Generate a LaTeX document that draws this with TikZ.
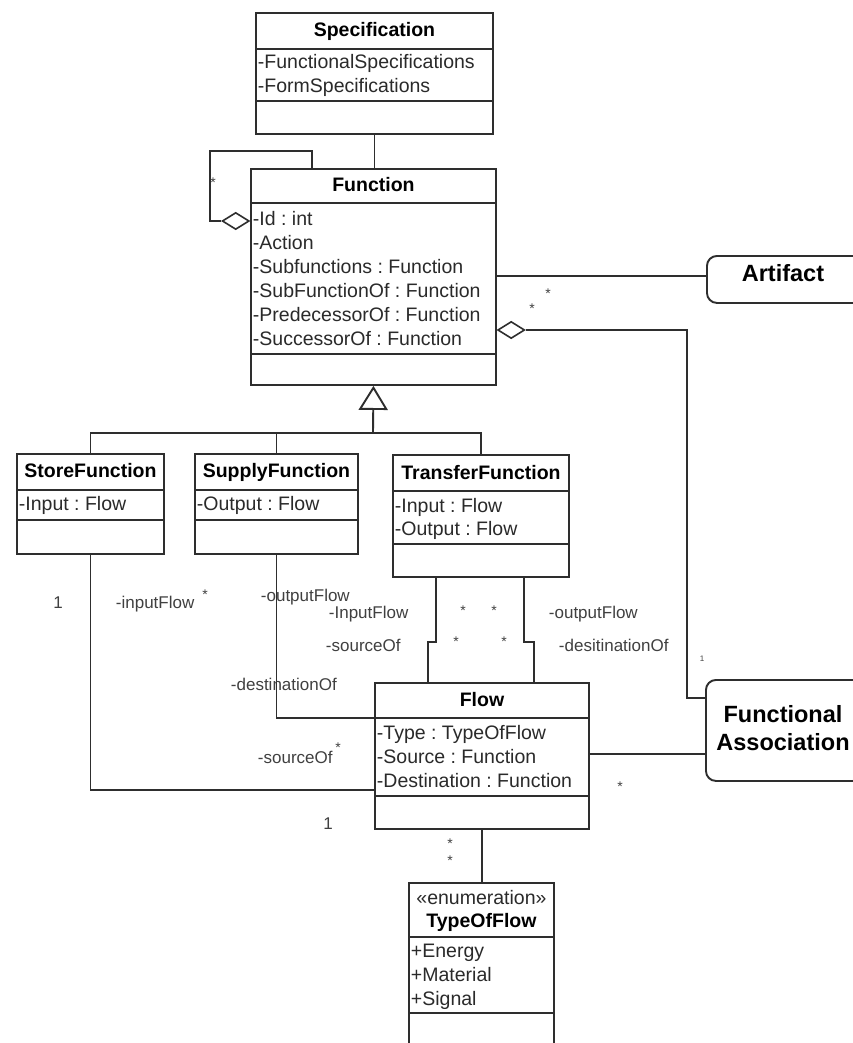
\documentclass[tikz,border=0pt]{standalone}
\usepackage{fontspec}
\setmainfont{Liberation Sans}
\usetikzlibrary{shapes.geometric,arrows.meta}
\frenchspacing
\definecolor{linec}{HTML}{2E2E2E}
\definecolor{textc}{HTML}{2A2A2A}
\definecolor{rolec}{HTML}{404040}
\newcommand\umlattrfont{\fontsize{19.5}{24}\selectfont}
\newcommand\umltitlefont{\fontsize{19.5}{24}\selectfont\bfseries}
\newcommand\umlrolefont{\fontsize{17}{20}\selectfont}
\newcommand\umlmultfont{\fontsize{14}{16}\selectfont}
\newcommand\umltinyfont{\fontsize{8}{10}\selectfont}
\newcommand\umlbigfont{\fontsize{23.5}{28}\selectfont\bfseries}
\tikzset{
  classbox/.style={draw=linec, line width=1.9pt, inner sep=0pt, anchor=north west},
  roundbox/.style={draw=linec, line width=1.9pt, rounded corners=10pt, inner sep=0pt, anchor=north west},
  umltitle/.style={font=\umltitlefont, text=black, anchor=base, inner sep=0pt},
  umlbig/.style={font=\umlbigfont, text=black, anchor=base, inner sep=0pt},
  umlattr/.style={font=\umlattrfont, text=textc, anchor=base west, inner sep=0pt},
  umlrole/.style={font=\umlrolefont, text=rolec, anchor=base west, inner sep=0pt},
  umlmult/.style={font=\umlmultfont, text=rolec, anchor=base, inner sep=0pt},
  agg/.style={diamond, draw=linec, fill=white, line width=1.6pt, minimum width=27pt, minimum height=17pt, inner sep=0pt},
  gentip/.style={-{Triangle[open,length=24pt,width=29pt]}},
}
\begin{document}
\begin{tikzpicture}[x=1pt,y=-1pt,line width=1.9pt,draw=linec]
\useasboundingbox (0,0) rectangle (852,1043);
\fill[white] (0,0) rectangle (852,1043);

% ---------- Specification ----------
\node[classbox, minimum width=237pt, minimum height=121pt] (spec) at (255,12) {};
\draw (spec.west |- 0,49) -- (spec.east |- 0,49);
\draw (spec.west |- 0,101) -- (spec.east |- 0,101);
\node[umltitle] (specT) at (spec.north |- 0,37) {Specification};
\node[umlattr] (specA1) at (257,69) {-FunctionalSpecifications};
\node[umlattr] (specA2) at (257,93) {-FormSpecifications};

% ---------- Function ----------
\node[classbox, minimum width=245pt, minimum height=216pt] (func) at (250,168) {};
\draw (func.west |- 0,203) -- (func.east |- 0,203);
\draw (func.west |- 0,354) -- (func.east |- 0,354);
\node[umltitle] (funcT) at (func.north |- 0,192) {Function};
\node[umlattr] (funcA1) at (252,225) {-Id : int};
\node[umlattr] (funcA2) at (252,249) {-Action};
\node[umlattr] (funcA3) at (252,273) {-Subfunctions : Function};
\node[umlattr] (funcA4) at (252,297) {-SubFunctionOf : Function};
\node[umlattr] (funcA5) at (252,321) {-PredecessorOf : Function};
\node[umlattr] (funcA6) at (252,345) {-SuccessorOf : Function};

% ---------- Artifact / Functional Association ----------
\node[roundbox, minimum width=156pt, minimum height=47pt] (art) at (706,255) {};
\node[umlbig] (artT) at (783,281) {Artifact};
\node[roundbox, minimum width=157pt, minimum height=101pt] (fa) at (705,679) {};
\node[umlbig] (faT1) at (783,722.5) {Functional};
\node[umlbig] (faT2) at (783,750.5) {Association};

% ---------- StoreFunction ----------
\node[classbox, minimum width=147pt, minimum height=100pt] (store) at (16,453) {};
\draw (store.west |- 0,490) -- (store.east |- 0,490);
\draw (store.west |- 0,520) -- (store.east |- 0,520);
\node[umltitle] (storeT) at (store.north |- 0,477) {StoreFunction};
\node[umlattr] (storeA1) at (18,510) {-Input : Flow};

% ---------- SupplyFunction ----------
\node[classbox, minimum width=163pt, minimum height=100pt] (supply) at (194,453) {};
\draw (supply.west |- 0,490) -- (supply.east |- 0,490);
\draw (supply.west |- 0,520) -- (supply.east |- 0,520);
\node[umltitle] (supplyT) at (supply.north |- 0,477) {SupplyFunction};
\node[umlattr] (supplyA1) at (196,510) {-Output : Flow};

% ---------- TransferFunction ----------
\node[classbox, minimum width=176pt, minimum height=122pt] (transfer) at (392,454) {};
\draw (transfer.west |- 0,491) -- (transfer.east |- 0,491);
\draw (transfer.west |- 0,544) -- (transfer.east |- 0,544);
\node[umltitle] (transferT) at (transfer.north |- 0,479) {TransferFunction};
\node[umlattr] (transferA1) at (394,512) {-Input : Flow};
\node[umlattr] (transferA2) at (394,535) {-Output : Flow};

% ---------- Flow ----------
\node[classbox, minimum width=214pt, minimum height=146pt] (flow) at (374,682) {};
\draw (flow.west |- 0,718) -- (flow.east |- 0,718);
\draw (flow.west |- 0,796) -- (flow.east |- 0,796);
\node[umltitle] (flowT) at (flow.north |- 0,706) {Flow};
\node[umlattr] (flowA1) at (376,739) {-Type : TypeOfFlow};
\node[umlattr] (flowA2) at (376,763) {-Source : Function};
\node[umlattr] (flowA3) at (376,787) {-Destination : Function};

% ---------- TypeOfFlow (enumeration) ----------
\node[classbox, minimum width=145pt, minimum height=178pt] (tof) at (408,882) {};
\draw (tof.west |- 0,937) -- (tof.east |- 0,937);
\draw (tof.west |- 0,1013) -- (tof.east |- 0,1013);
\node[umlattr, anchor=base] (tofS) at (tof.north |- 0,904) {«enumeration»};
\node[umltitle] (tofT) at (tof.north |- 0,927) {TypeOfFlow};
\node[umlattr] (tofA1) at (410,957) {+Energy};
\node[umlattr] (tofA2) at (410,981) {+Material};
\node[umlattr] (tofA3) at (410,1005) {+Signal};

% ---------- connectors ----------
% Specification -- Function
\draw (spec.south) -- (spec.south |- func.north);

% self aggregation on Function
\node[agg, anchor=east] (d1) at (func.west |- 0,221) {};
\coordinate (selfbend) at (210,151);
\draw (func.north -| 312,0) |- (selfbend) |- (d1.west);
\node[umlmult] (m1) at (213,187) {*};

% Function -- Artifact
\draw (art.west |- 0,276) -- (func.east |- 0,276);
\node[umlmult] (m2) at (548,298) {*};
\node[umlmult] (m3) at (532,313) {*};

% Function <>-- Functional Association
\node[agg, anchor=west] (d2) at (func.east |- 0,330) {};
\coordinate (fabend) at (687,698);
\draw (d2.east) -| (fabend) -- (fabend -| fa.west);
\node[font=\umltinyfont, text=rolec, inner sep=0pt] (m4) at (702,659) {1};

% Flow -- Functional Association
\draw (flow.east |- 0,754) -- (fa.west |- 0,754);
\node[umlmult] (m5) at (620,791) {*};

% generalization tree
\coordinate (gen) at (373,433);
\draw[gentip] (gen) -- (func.south);
\draw (store.north) |- (gen) -| (transfer.north);
\draw (supply.north) -- (supply.north |- gen);

% StoreFunction -- Flow
\draw (store.south) |- (flow.west |- 0,790);
\node[font=\umlrolefont, text=rolec, anchor=base, inner sep=0pt] (r1) at (58,608) {1};
\node[umlrole] (r2) at (115,608) {-inputFlow};
\node[umlmult] (m6) at (205,599) {*};
\node[umlrole] (r3) at (257,763) {-sourceOf};
\node[umlmult] (m7) at (338,752) {*};
\node[font=\umlrolefont, text=rolec, anchor=base, inner sep=0pt] (r4) at (328,829) {1};

% SupplyFunction -- Flow
\draw (supply.south) |- (flow.west |- 0,718);
\node[umlrole] (r5) at (260,601) {-outputFlow};
\node[umlrole] (r6) at (230,690) {-destinationOf};

% TransferFunction -- Flow (two associations)
\draw (transfer.south -| 436,0) -- (436,642) -- (428,642) -- (flow.north -| 428,0);
\draw (transfer.south -| 524,0) -- (524,642) -- (534,642) -- (flow.north -| 534,0);
\node[umlrole] (r7) at (328,618) {-InputFlow};
\node[umlrole] (r8) at (325,651) {-sourceOf};
\node[umlrole] (r9) at (548,618) {-outputFlow};
\node[umlrole] (r10) at (558,651) {-desitinationOf};
\node[umlmult] (m8) at (463,615) {*};
\node[umlmult] (m9) at (494,615) {*};
\node[umlmult] (m10) at (456,646) {*};
\node[umlmult] (m11) at (504,646) {*};

% Flow -- TypeOfFlow
\draw (flow.south) -- (flow.south |- tof.north);
\node[umlmult] (m12) at (450,848) {*};
\node[umlmult] (m13) at (450,865) {*};
\end{tikzpicture}
\end{document}
